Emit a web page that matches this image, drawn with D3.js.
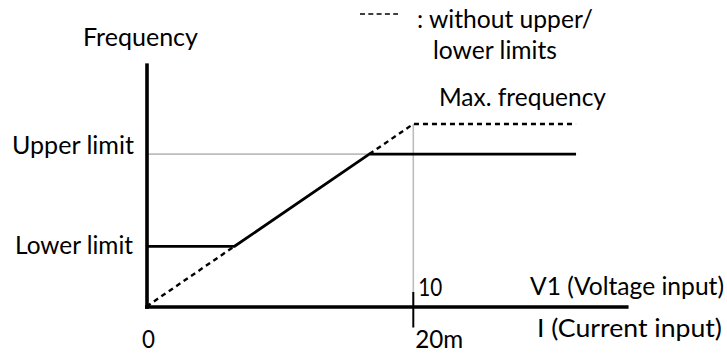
<!DOCTYPE html>
<html>
<head>
<meta charset="utf-8">
<script src="https://cdn.jsdelivr.net/npm/d3@7"></script>
<style>
  html, body { margin: 0; padding: 0; background: #fff; }
  svg { display: block; }
  text { font-family: Lato, "Noto Sans", sans-serif; font-size: 25px; fill: #000; }
</style>
</head>
<body>
<svg id="chart" width="727" height="353"></svg>
<script>
// ---------- data ----------
// input axis (V1 voltage, 0..10 V ; I current, 0..20 mA)
const xTickValues = [10];
const xTickLabelsTop = ["10"];      // V1 (Voltage input)
const xTickLabelsBottom = ["20m"];  // I (Current input)
const xAxisEnd = 18.05;
const xLineEnd = 16.1;
// frequency axis (in % of max frequency)
const yAxisTop = 133.5;
const maxFrequency = 100;
const upperLimit = 83.5;
const lowerLimit = 33;
const yLevelLabels = ["Upper limit", "Lower limit"];
const yLevelValues = [upperLimit, lowerLimit];
// output with limits (solid)
const limitedX = [0, lowerLimit / 10, upperLimit / 10, xLineEnd];
const limitedY = [lowerLimit, lowerLimit, upperLimit, upperLimit];
// output without limits (dashed)
const unlimitedLowX = [0, lowerLimit / 10];
const unlimitedLowY = [0, lowerLimit];
const unlimitedHighX = [upperLimit / 10, 10, xLineEnd];
const unlimitedHighY = [upperLimit, maxFrequency, maxFrequency];

// ---------- layout ----------
const svg = d3.select("#chart");
const x = d3.scaleLinear().domain([0, 10]).range([146.5, 413.3]);
const y = d3.scaleLinear().domain([0, 100]).range([306.5, 124]);

const zip = (xs, ys) => xs.map((v, i) => [v, ys[i]]);
const line = d3.line().x(d => x(d[0])).y(d => y(d[1]));

// gray guide lines
svg.append("line")
  .attr("x1", x(0)).attr("x2", x(10))
  .attr("y1", y(upperLimit)).attr("y2", y(upperLimit))
  .attr("stroke", "#bdbdbd").attr("stroke-width", 1.6);
svg.append("line")
  .attr("x1", x(10)).attr("x2", x(10))
  .attr("y1", y(maxFrequency)).attr("y2", y(0))
  .attr("stroke", "#bdbdbd").attr("stroke-width", 1.6);

// dashed lines (without limits)
[zip(unlimitedLowX, unlimitedLowY), zip(unlimitedHighX, unlimitedHighY)].forEach(pts => {
  svg.append("path").attr("d", line(pts))
    .attr("fill", "none").attr("stroke", "#000")
    .attr("stroke-width", 2.4).attr("stroke-dasharray", "5,4");
});

// solid line (with limits)
svg.append("path").attr("d", line(zip(limitedX, limitedY)))
  .attr("fill", "none").attr("stroke", "#000")
  .attr("stroke-width", 2.8).attr("stroke-linejoin", "miter");

// axes
const gx = svg.append("g").attr("transform", `translate(0,${y(0)})`)
  .call(d3.axisBottom(d3.scaleLinear().domain([0, xAxisEnd]).range([x(0) - 2, x(xAxisEnd)])).tickValues([]).tickSizeOuter(0));
gx.select(".domain").attr("stroke", "#000").attr("stroke-width", 3.6);
const gy = svg.append("g").attr("transform", `translate(${x(0)},0)`)
  .call(d3.axisLeft(d3.scaleLinear().domain([0, yAxisTop]).range([y(0) + 1.8, y(yAxisTop)])).tickValues([]).tickSizeOuter(0));
gy.select(".domain").attr("stroke", "#000").attr("stroke-width", 3.6);

// tick at 10 V / 20 mA
xTickValues.forEach(v => {
  svg.append("line")
    .attr("x1", x(v)).attr("x2", x(v))
    .attr("y1", y(0) - 14.5).attr("y2", y(0) + 21)
    .attr("stroke", "#000").attr("stroke-width", 2);
});

// text helper
function label(t, xPos, yPos, width, anchor) {
  const el = svg.append("text").attr("x", xPos).attr("y", yPos).text(t);
  if (anchor) el.attr("text-anchor", anchor);
  if (width) el.attr("textLength", width).attr("lengthAdjust", "spacingAndGlyphs");
  return el;
}

label("Frequency", 83, 46, 115);
label(yLevelLabels[0], 134, y(yLevelValues[0]) - 0.5, 122, "end");
label(yLevelLabels[1], 133, y(yLevelValues[1]) + 7.5, 118, "end");
label("0", 142, 348, 13);
xTickValues.forEach((v, i) => {
  label(xTickLabelsTop[i], x(v) + 5, 296, 24);
  label(xTickLabelsBottom[i], x(v) + 2, 348, 48);
});
label("V1 (Voltage input)", 530, 295, 194);
label("I (Current input)", 537, 337, 185);
label("Max. frequency", 439, 106, 167);

// legend
svg.append("line")
  .attr("x1", 360).attr("x2", 398).attr("y1", 14).attr("y2", 14)
  .attr("stroke", "#000").attr("stroke-width", 1.6).attr("stroke-dasharray", "5,3.3");
label(": without upper/", 417, 28, 176);
label("lower limits", 433, 59, 124);
</script>
</body>
</html>
